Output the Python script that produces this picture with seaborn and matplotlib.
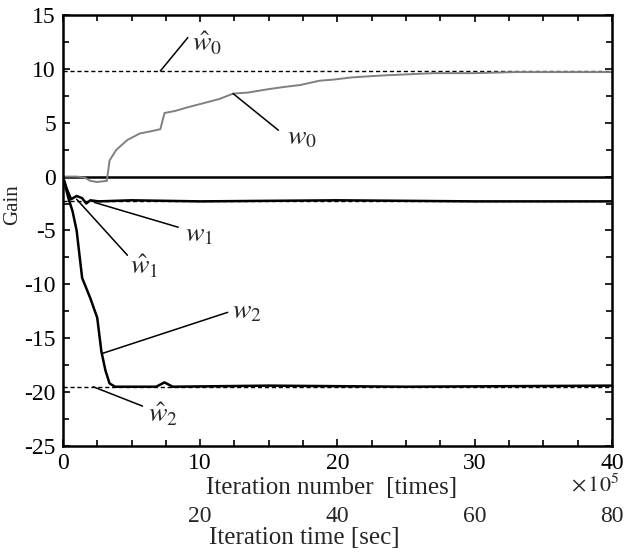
import numpy as np
import pandas as pd
import seaborn as sns
import matplotlib.pyplot as plt
from matplotlib.ticker import MultipleLocator

# values (x in units of 1e5 iterations)
w0_x = [0, 1.0, 1.6, 2.0, 2.5, 3.2, 3.4, 3.9, 4.7, 5.6, 6.4, 7.1, 7.4, 8.2, 9.0,
        10.5, 11.4, 12.4, 13.5, 14.9, 16.0, 17.3, 18.7, 19.7, 21.0, 22.2, 23.5,
        25.3, 27.0, 30.0, 33.0, 36.0, 40.0]
w0_y = [0, 0.0, -0.1, -0.4, -0.5, -0.4, 1.5, 2.5, 3.4, 4.0, 4.2, 4.4, 5.9, 6.1, 6.4,
        6.9, 7.2, 7.7, 7.8, 8.1, 8.3, 8.5, 8.9, 9.0, 9.2, 9.3, 9.4,
        9.5, 9.6, 9.6, 9.7, 9.7, 9.7]

w1_x = [0, 0.3, 0.6, 1.0, 1.4, 1.7, 2.0, 2.6, 5.0, 10.0, 20.0, 30.0, 40.0]
w1_y = [0, -1.2, -2.1, -1.8, -2.0, -2.5, -2.2, -2.3, -2.2, -2.3, -2.2, -2.3, -2.3]

w2_x = [0, 0.4, 0.7, 1.0, 1.4, 2.0, 2.5, 2.8, 3.1, 3.4, 3.8, 6.8, 7.4, 8.0, 15.0, 25.0, 40.0]
w2_y = [0, -2.0, -3.2, -5.0, -9.4, -11.3, -13.1, -16.2, -18.0, -19.2, -19.5, -19.5,
        -19.1, -19.5, -19.4, -19.5, -19.4]

w_hat = [9.8, -2.3, -19.5]   # ŵ0, ŵ1, ŵ2
zero_line = [0.0, 0.0]
x_span = [0, 40]

x_ticks = [0, 10, 20, 30, 40]
y_ticks = [-25, -20, -15, -10, -5, 0, 5, 10, 15]
time_ticks = [20, 40, 60, 80]

sns.set_theme(style="ticks")
plt.rcParams['font.family'] = ['Liberation Serif', 'DejaVu Serif']
plt.rcParams['mathtext.fontset'] = 'stix'
plt.rcParams['axes.unicode_minus'] = False

fig = plt.figure(figsize=(6.29, 5.54), dpi=100)
ax = fig.add_axes([0.100, 0.195, 0.873, 0.778])

# estimated weights
for v in w_hat:
    sns.lineplot(x=x_span, y=[v, v], ax=ax, color='black', lw=1.0, linestyle=(0, (3, 2)))
sns.lineplot(x=x_span, y=zero_line, ax=ax, color='black', lw=1.8)

# adapted weights
sns.lineplot(x=w0_x, y=w0_y, ax=ax, color='0.5', lw=1.4, sort=False)
sns.lineplot(x=w1_x, y=w1_y, ax=ax, color='black', lw=1.8, sort=False)
sns.lineplot(x=w2_x, y=w2_y, ax=ax, color='black', lw=1.8, sort=False)

ax.set_xlim(0, 40)
ax.set_ylim(-25, 15)
ax.set_xticks(x_ticks)
ax.set_yticks(y_ticks)
ax.xaxis.set_minor_locator(MultipleLocator(2.5))
ax.yaxis.set_minor_locator(MultipleLocator(2.5))
ax.tick_params(which='both', direction='in', top=True, right=True, width=1.2,
               labelsize=17, colors='black')
ax.tick_params(which='major', length=5, pad=5)
ax.tick_params(which='minor', length=4)
for s in ax.spines.values():
    s.set_linewidth(1.8)
    s.set_color('black')

ax.text(-0.091, 0.56, 'Gain', transform=ax.transAxes, fontsize=15,
        rotation=90, ha='center', va='center')
ax.text(0.49, -0.097, 'Iteration number  [times]', transform=ax.transAxes,
        fontsize=18, ha='center', va='center')

# second x axis: iteration time
sec = ax.secondary_xaxis(-0.14, functions=(lambda x: 2 * x, lambda x: x / 2))
sec.set_xticks(time_ticks)
sec.tick_params(length=0, labelsize=17, pad=0)
sec.spines['bottom'].set_visible(False)
ax.text(0.44, -0.213, 'Iteration time [sec]', transform=ax.transAxes,
        fontsize=18, ha='center', va='center')

ax.text(0.925, -0.092, r'$\times\,10^5$', transform=ax.transAxes, fontsize=16,
        ha='left', va='center')

# leader lines and labels
labels = [
    (r'$\hat{w}_0$', (7.1, 9.8), (9.1, 12.9), (10.5, 12.3)),
    (r'$w_0$', (12.4, 7.7), (15.7, 4.3), (17.4, 3.6)),
    (r'$w_1$', (2.3, -2.4), (8.4, -4.7), (9.9, -5.4)),
    (r'$\hat{w}_1$', (1.0, -2.1), (4.7, -7.3), (5.9, -8.4)),
    (r'$w_2$', (2.9, -16.4), (12.0, -12.6), (13.4, -12.6)),
    (r'$\hat{w}_2$', (2.2, -19.5), (5.8, -21.3), (7.3, -22.1)),
]
for txt, p0, p1, pt in labels:
    sns.lineplot(x=[p0[0], p1[0]], y=[p0[1], p1[1]], ax=ax, color='black', lw=1.1, sort=False)
    ax.text(pt[0], pt[1], txt, fontsize=20, ha='center', va='center')

plt.savefig('out.png', dpi=100)
